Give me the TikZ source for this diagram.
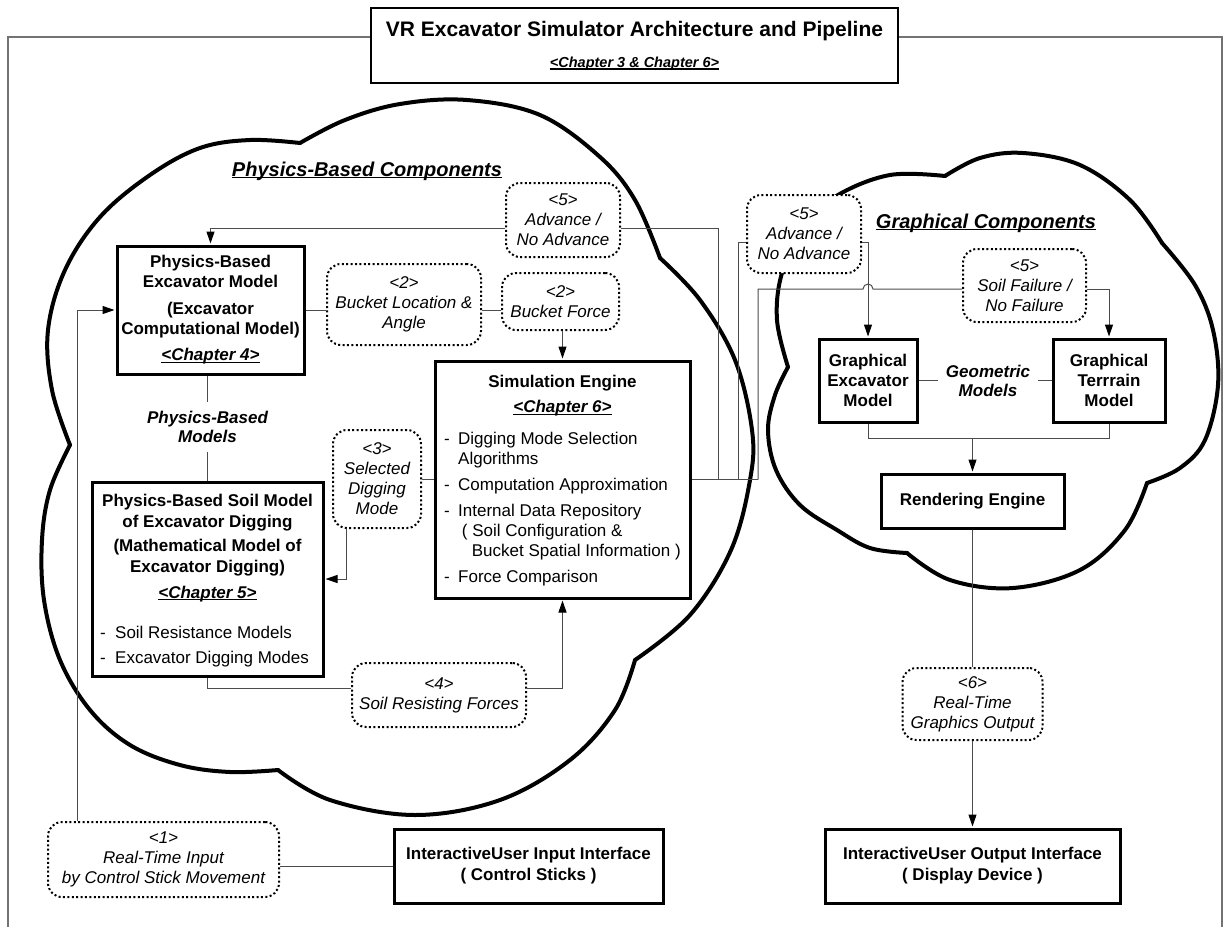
\documentclass[tikz,border=0pt]{standalone}
\usepackage{fontspec}
\setmainfont{Liberation Sans}
\usetikzlibrary{arrows.meta,calc}
\newsavebox\ulbox
\newcommand\myul[1]{\sbox\ulbox{#1}\rlap{\rule[-2pt]{\wd\ulbox}{1.3pt}}\usebox\ulbox}
\begin{document}
\begin{tikzpicture}[x=1pt,y=-1pt,
  every node/.style={font=\fontsize{17}{20}\selectfont, inner sep=0pt},
  bbox/.style={draw, line width=3pt, fill=white, align=center, font=\fontsize{17}{20}\selectfont\bfseries},
  dbox/.style={draw, line width=2pt, dash pattern=on 2pt off 2.4pt, rounded corners=14pt, fill=white, align=center, font=\fontsize{17}{20}\selectfont\itshape},
  bilabel/.style={align=center, font=\fontsize{17}{19}\selectfont\bfseries\itshape},
  conn/.style={line width=1pt, draw=black!70},
  arr/.style={-{Triangle[length=12pt,width=8pt,color=black]}, shorten >=1pt},
  cloudline/.style={line width=4pt, line cap=round, line join=round},
  frameline/.style={line width=1.2pt, draw=black!55}]
\useasboundingbox (0,0) rectangle (1231,927);

% outer frame
\draw[frameline] (8,927) -- (8,37) -- (1222,37) -- (1222,927);

% left cloud
\draw[cloudline] plot[smooth, tension=0.6] coordinates {(660,258) (635,200) (600,157) (540,115) (467,100) (400,104) (345,120) (300,143)};
\draw[cloudline] plot[smooth, tension=0.6] coordinates {(300,143) (250,140) (200,148) (150,175) (100,217) (65,270) (48,330) (52,390) (70,445)};
\draw[cloudline] plot[smooth, tension=0.6] coordinates {(70,445) (50,490) (42,540) (44,600) (60,660) (90,710) (130,745) (180,765) (230,772) (278,770)};
\draw[cloudline] plot[smooth, tension=0.6] coordinates {(278,770) (330,800) (415,815) (500,800) (570,760) (615,710) (635,660)};
\draw[cloudline] plot[smooth, tension=0.6] coordinates {(635,660) (690,615) (731,550) (750,480) (752,430) (735,360) (700,300) (660,258)};

% right cloud
\draw[cloudline] plot[smooth, tension=0.6] coordinates {(788,367) (777,320) (782,273) (805,225) (838,195) (890,175) (945,176)};
\draw[cloudline] plot[smooth, tension=0.6] coordinates {(945,176) (980,158) (1023,153) (1080,165) (1130,200) (1162,243)};
\draw[cloudline] plot[smooth, tension=0.6] coordinates {(1162,243) (1195,285) (1213,330) (1218,385) (1205,440) (1180,468) (1147,483)};
\draw[cloudline] plot[smooth, tension=0.6] coordinates {(1147,483) (1125,530) (1080,570) (1013,588) (950,580) (907,553)};
\draw[cloudline] plot[smooth, tension=0.6] coordinates {(907,553) (870,548) (837,530) (800,505) (776,470) (768,430) (775,395) (788,367)};

% title
\node[draw, line width=1.3pt, fill=white, minimum width=527pt, minimum height=75pt] (title) at (634.5,45.5) {};
\node[font=\fontsize{21}{25}\selectfont\bfseries] (titletext) at (634.5,31) {VR Excavator Simulator Architecture and Pipeline};
\node[font=\fontsize{14.5}{17}\selectfont\bfseries\itshape] (titlechap) at (634.5,64) {\myul{<Chapter 3 \& Chapter 6>}};

% cloud headings
\node[font=\fontsize{20}{24}\selectfont\bfseries\itshape] (pbc) at (367,171) {\myul{Physics-Based Components}};
\node[font=\fontsize{20}{24}\selectfont\bfseries\itshape] (gc) at (986,223) {\myul{Graphical Components}};

% physics-based boxes
\node[bbox, minimum width=187pt, minimum height=128pt] (pem) at (210.5,310)
  {Physics-Based\\Excavator Model\\[7pt](Excavator\\Computational Model)\\[6pt]\textit{\myul{<Chapter 4>}}};
\node[bilabel, inner ysep=9pt] (pbm) at (207.5,427) {Physics-Based\\Models};
\node[bbox, minimum width=231pt, minimum height=194pt] (psm) at (207.5,579) {};
\node[align=center, font=\fontsize{17}{21}\selectfont\bfseries] (psmhead) at (207.5,548)
  {Physics-Based Soil Model\\of Excavator Digging\\[3pt](Mathematical Model of\\Excavator Digging)\\[5pt]\textit{\myul{<Chapter 5>}}};
\node[anchor=north west, align=left] (psmlist) at (100,625.5)
  {-\hspace*{9.3pt}Soil Resistance Models\\[5pt]-\hspace*{9.3pt}Excavator Digging Modes};

\node[bbox, minimum width=255pt, minimum height=237pt] (sim) at (562.5,479.5) {};
\node[align=center, font=\fontsize{17}{20}\selectfont\bfseries] (simhead) at (562.5,396)
  {Simulation Engine\\[5pt]\textit{\myul{<Chapter 6>}}};
\node[anchor=north west, align=left] (simlist) at (444,431.5)
  {-\hspace*{8.3pt}Digging Mode Selection\\\hspace*{14pt}Algorithms\\[6pt]-\hspace*{8.3pt}Computation Approximation\\[6pt]-\hspace*{8.3pt}Internal Data Repository\\\hspace*{17.7pt}( Soil Configuration \&\\\hspace*{27.7pt}Bucket Spatial Information )\\[6pt]-\hspace*{8.3pt}Force Comparison};

% graphical boxes
\node[bbox, minimum width=98pt, minimum height=83pt] (gex) at (868,380.5) {Graphical\\Excavator\\Model};
\node[bbox, minimum width=112pt, minimum height=83pt] (gtr) at (1109,380.5) {Graphical\\Terrrain\\Model};
\node[bilabel, inner xsep=8pt] (geo) at (988,380.5) {Geometric\\Models};
\node[bbox, minimum width=183pt, minimum height=54pt] (ren) at (972.5,501) {Rendering Engine};

% interfaces
\node[bbox, minimum width=269pt, minimum height=74pt, font=\fontsize{17}{21}\selectfont\bfseries] (inp) at (528.5,866) {InteractiveUser Input Interface\\( Control Sticks )};
\node[bbox, minimum width=295pt, minimum height=74pt, font=\fontsize{17}{21}\selectfont\bfseries] (out) at (972.5,866) {InteractiveUser Output Interface\\( Display Device )};

% dotted labels
\node[dbox, minimum width=114pt, minimum height=74pt] (d5a) at (563,220) {<5>\\Advance /\\No Advance};
\node[dbox, minimum width=114pt, minimum height=78pt] (d5b) at (804,234) {<5>\\Advance /\\No Advance};
\node[dbox, minimum width=123pt, minimum height=73pt] (d5c) at (1024.5,285.5) {<5>\\Soil Failure /\\No Failure};
\node[dbox, minimum width=154pt, minimum height=81pt] (d2a) at (404,304.5) {<2>\\Bucket Location \&\\Angle};
\node[dbox, minimum width=117pt, minimum height=57pt] (d2b) at (560.5,301.5) {<2>\\Bucket Force};
\node[dbox, minimum width=88pt, minimum height=98pt] (d3) at (377,479) {<3>\\Selected\\Digging\\Mode};
\node[dbox, minimum width=174pt, minimum height=64pt] (d4) at (439,695) {<4>\\Soil Resisting Forces};
\node[dbox, minimum width=231pt, minimum height=75pt] (d1) at (163.5,859.5) {<1>\\Real-Time Input\\by Control Stick Movement};
\node[dbox, minimum width=140pt, minimum height=72pt] (d6) at (972.5,704) {<6>\\Real-Time\\Graphics Output};

% routing helpers
\coordinate (y5a) at (0,228);
\coordinate (y5b) at (0,242);
\coordinate (y5c) at (0,289);
\coordinate (y688) at (0,688);
\coordinate (y438) at (0,438);
\coordinate (v1) at (718,0);
\coordinate (v2) at (738,0);
\coordinate (v3) at (758,0);
\coordinate (vfb) at (77,0);
\coordinate (vd3) at (346,0);

% connectors
\draw[conn,arr] (d5a.west |- y5a) -| (pem.north);
\draw[conn] (d5a.east |- y5a) -| (sim.east -| v1);
\draw[conn] (sim.east) -- (sim.east -| v3);
\draw[conn] (d5b.west |- y5b) -| (sim.east -| v2);
\draw[conn,arr] (d5b.east |- y5b) -| (gex.north);
\draw[conn] (sim.east -| v3) |- ($(gex.north |- y5c)+(-5,0)$) arc[start angle=180,end angle=0,radius=5pt] -- (d5c.west |- y5c);
\draw[conn,arr] (d5c.east |- y5c) -| (gtr.north);
\draw[conn] (pem.east) -- (pem.east -| d2a.west);
\draw[conn] (d2a.east |- pem.east) -- (d2b.west |- pem.east);
\draw[conn,arr] (d2b.south -| sim.north) -- (sim.north);
\draw[conn] (pem.south -| pbm.north) -- (pbm.north);
\draw[conn] (pbm.south) -- (psm.north);
\draw[conn] (d3.east) -- (d3.east -| sim.west);
\draw[conn,arr] (d3.south -| vd3) |- (psm.east);
\draw[conn] (psm.south) |- (d4.west |- y688);
\draw[conn,arr] (d4.east |- y688) -| (sim.south);
\draw[conn,arr] (d1.north -| vfb) |- (pem.west);
\draw[conn] (d1.east |- inp.west) -- (inp.west);
\draw[conn] (gex.south) |- (gtr.south |- y438) -- (gtr.south);
\draw[conn,arr] (ren.north |- y438) -- (ren.north);
\draw[conn] (gex.east) -- (geo.west);
\draw[conn] (geo.east) -- (gtr.west);
\draw[conn] (ren.south) -- (d6.north);
\draw[conn,arr] (d6.south) -- (out.north);
\end{tikzpicture}
\end{document}
